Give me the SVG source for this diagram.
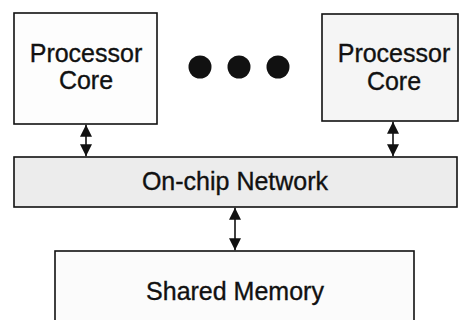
<svg xmlns="http://www.w3.org/2000/svg" width="460" height="320" viewBox="0 0 460 320">
  <style>
    .box { stroke: #111; stroke-width: 1.6; }
    .lbl { font-family: "Liberation Sans", Arial, sans-serif; font-size: 25px; fill: #111; stroke: #111; stroke-width: 0.35; text-anchor: middle; }
    .link { stroke: #111; stroke-width: 1.6; fill: none; marker-start: url(#head); marker-end: url(#head); }
  </style>
  <defs>
    <marker id="head" viewBox="0 0 12 12" refX="12" refY="6" markerWidth="12" markerHeight="12" markerUnits="userSpaceOnUse" orient="auto-start-reverse">
      <path d="M0,0 L12,6 L0,12 Z" fill="#111"/>
    </marker>
  </defs>

  <rect width="460" height="320" fill="#fff"/>

  <g id="core-left">
    <rect class="box" x="14" y="13" width="143" height="111" fill="#fdfdfd"/>
    <text class="lbl" x="86" y="62">Processor</text>
    <text class="lbl" x="86" y="89">Core</text>
  </g>

  <g id="ellipsis">
    <circle cx="200" cy="67" r="11.5" fill="#111"/>
    <circle cx="239" cy="67" r="11.5" fill="#111"/>
    <circle cx="278" cy="67" r="11.5" fill="#111"/>
  </g>

  <g id="core-right">
    <rect class="box" x="322" y="14" width="136" height="107" fill="#f5f5f5"/>
    <text class="lbl" x="394" y="62">Processor</text>
    <text class="lbl" x="394" y="90">Core</text>
  </g>

  <g id="network">
    <rect class="box" x="14" y="157" width="443" height="50" fill="#ececec"/>
    <text class="lbl" x="235" y="190">On-chip Network</text>
  </g>

  <g id="memory">
    <rect class="box" x="55" y="251" width="359" height="80" fill="#fbfbfb"/>
    <text class="lbl" x="235" y="300">Shared Memory</text>
  </g>

  <g id="connectors">
    <line class="link" x1="86" y1="124.8" x2="86" y2="156.2"/>
    <line class="link" x1="393" y1="121.8" x2="393" y2="156.2"/>
    <line class="link" x1="235" y1="207.8" x2="235" y2="250.2"/>
  </g>
</svg>
